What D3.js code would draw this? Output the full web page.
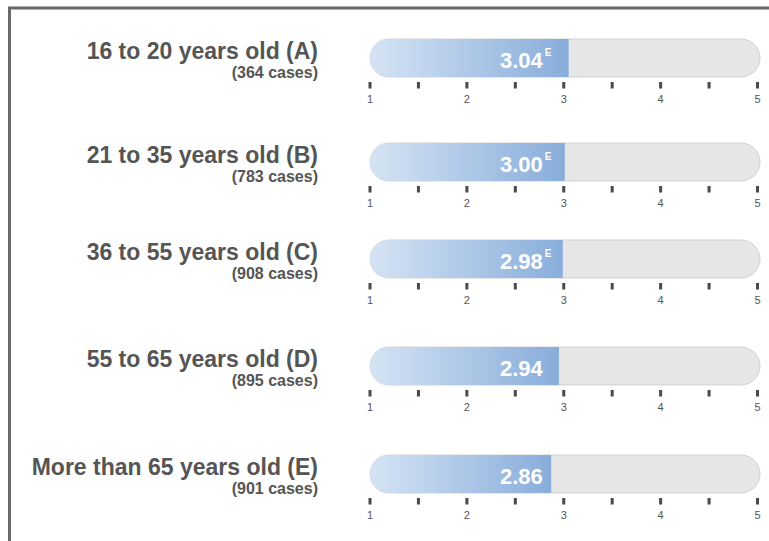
<!DOCTYPE html>
<html><head><meta charset="utf-8">
<script src="https://cdn.jsdelivr.net/npm/d3@7"></script>
<style>html,body{margin:0;padding:0;background:#fff;}svg{display:block;}</style>
</head><body>
<script>
const categories = ["16 to 20 years old (A)", "21 to 35 years old (B)", "36 to 55 years old (C)", "55 to 65 years old (D)", "More than 65 years old (E)"];
const cases = [364, 783, 908, 895, 901];
const values = [3.04, 3.00, 2.98, 2.94, 2.86];
const flags = ["E", "E", "E", "", ""];
const tickValues = [1, 1.5, 2, 2.5, 3, 3.5, 4, 4.5, 5];
const tickLabels = ["1", "2", "3", "4", "5"];

const W = 769, H = 541;
const rowTops = [39, 143, 240, 347, 455];
const barH = 38;
const svg = d3.select("body").append("svg").attr("width", W).attr("height", H);
const font = "'Liberation Sans', Arial, Helvetica, sans-serif";

// frame
svg.append("line").attr("x1", 9.5).attr("x2", 9.5).attr("y1", 7).attr("y2", H).attr("stroke", "#6a6a6a").attr("stroke-width", 3);
svg.append("line").attr("x1", 8).attr("x2", W).attr("y1", 8).attr("y2", 8).attr("stroke", "#6a6a6a").attr("stroke-width", 3);

const x = d3.scaleLinear().domain([1, 5]).range([370, 757.5]);
const trackEnd = 760;
const defs = svg.append("defs");

const data = categories.map((c, i) => ({ c, n: cases[i], v: values[i], f: flags[i], i }));

data.forEach(d => {
  const y0 = rowTops[d.i];
  const g = svg.append("g");
  const r = barH / 2;
  // track
  g.append("rect").attr("x", x(1)).attr("y", y0).attr("width", trackEnd - x(1)).attr("height", barH)
    .attr("rx", r).attr("ry", r).attr("fill", "#e6e6e6").attr("stroke", "#d2d2d2").attr("stroke-width", 1);
  // gradient
  const gid = "grad" + d.i;
  const grad = defs.append("linearGradient").attr("id", gid)
    .attr("gradientUnits", "userSpaceOnUse").attr("x1", x(1)).attr("x2", x(d.v)).attr("y1", 0).attr("y2", 0);
  grad.append("stop").attr("offset", "0%").attr("stop-color", "#d5e4f4");
  grad.append("stop").attr("offset", "100%").attr("stop-color", "#89addb");
  const x0 = x(1), x1 = x(d.v) + 1;
  const p = d3.path();
  p.moveTo(x0 + r, y0);
  p.lineTo(x1, y0);
  p.lineTo(x1, y0 + barH);
  p.lineTo(x0 + r, y0 + barH);
  p.arc(x0 + r, y0 + r, r, Math.PI / 2, 3 * Math.PI / 2);
  p.closePath();
  g.append("path").attr("d", p.toString()).attr("fill", `url(#${gid})`);
  // value label
  const t = g.append("text").attr("x", 500).attr("y", y0 + 29)
    .attr("font-family", font).attr("font-weight", "bold").attr("font-size", 22).attr("fill", "#fff")
    .text(d.v.toFixed(2));
  if (d.f) {
    t.append("tspan").attr("font-size", 10).attr("dx", 2).attr("dy", -12).text(d.f);
  }
  // category labels
  g.append("text").attr("x", 318).attr("y", y0 + 20).attr("text-anchor", "end")
    .attr("font-family", font).attr("font-weight", "bold").attr("font-size", 23).attr("fill", "#555")
    .text(d.c);
  g.append("text").attr("x", 318).attr("y", y0 + 39).attr("text-anchor", "end")
    .attr("font-family", font).attr("font-weight", "bold").attr("font-size", 16).attr("fill", "#555")
    .text(`(${d.n} cases)`);
  // axis
  const axis = g.append("g");
  axis.selectAll("rect").data(tickValues).join("rect")
    .attr("x", v => x(v) - 1.5).attr("y", y0 + barH + 5).attr("width", 3).attr("height", 6.5).attr("fill", "#4a4a4a");
  axis.selectAll("text").data(tickLabels).join("text")
    .attr("x", s => x(+s)).attr("y", y0 + barH + 26).attr("text-anchor", "middle")
    .attr("font-family", font).attr("font-size", 11).attr("fill", "#555").text(s => s);
});
</script>
</body></html>
